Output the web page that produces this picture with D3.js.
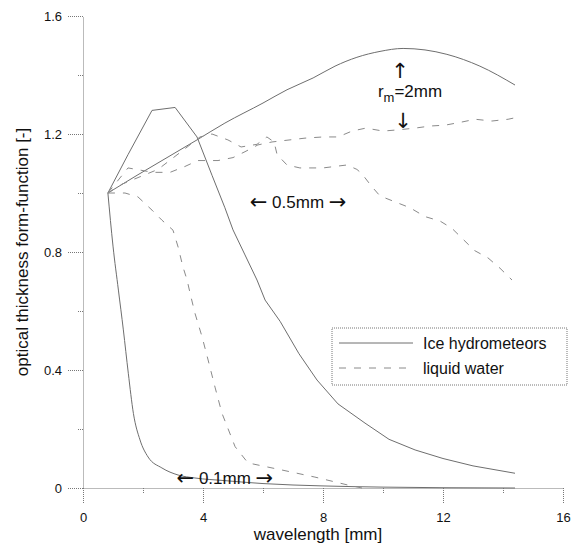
<!DOCTYPE html>
<html>
<head>
<meta charset="utf-8">
<script src="https://cdn.jsdelivr.net/npm/d3@7"></script>
<style>
  body { margin: 0; background: #fff; }
  svg { font-family: "Liberation Sans", Arial, sans-serif; }
  .axis path, .axis line { stroke: #777; stroke-dasharray: 1,1; }
  .axis text { fill: #111; font-size: 13px; }
  .curve { fill: none; stroke: #6e6e6e; stroke-width: 1; }
  .dashed { stroke-dasharray: 7,8; stroke: #8a8a8a; }
  .title { font-size: 17px; fill: #111; }
  .note { font-size: 17px; fill: #111; }
  .arrow { font-family: "DejaVu Sans", sans-serif; font-size: 21px; }
</style>
</head>
<body>
<svg id="chart" width="576" height="548"></svg>
<script>
// ticks
const xMajorTicks = [0, 4, 8, 12, 16];
const xMinorTicks = [2, 6, 10, 14];
const yMajorTicks = [0, 0.4, 0.8, 1.2, 1.6];
const yMinorTicks = [0.2, 0.6, 1.0, 1.4];

// ice hydrometeors, r_m = 2mm
const ice2X = [0.83, 1.8, 2.8, 3.8, 4.73, 6.0, 6.8, 7.67, 8.4, 9.13, 9.9, 10.67, 11.4, 12.13, 13.23, 14.4];
const ice2Y = [1.0, 1.06, 1.12, 1.18, 1.237, 1.305, 1.35, 1.39, 1.43, 1.46, 1.48, 1.49, 1.485, 1.47, 1.43, 1.366];

// ice hydrometeors, r_m = 0.5mm
const ice05X = [0.83, 1.5, 2.3, 3.07, 3.8, 4.3, 4.73, 5.0, 5.4, 5.8, 6.07, 6.57, 7.2, 7.8, 8.5, 9.4, 10.2, 11.07, 12.0, 13.0, 14.4];
const ice05Y = [1.0, 1.13, 1.28, 1.29, 1.19, 1.06, 0.95, 0.875, 0.79, 0.705, 0.637, 0.565, 0.455, 0.366, 0.285, 0.22, 0.165, 0.129, 0.10, 0.075, 0.05];

// ice hydrometeors, r_m = 0.1mm
const ice01X = [0.83, 1.0, 1.18, 1.345, 1.51, 1.68, 1.9, 2.17, 2.63, 3.17, 3.73, 4.73, 6.0, 8.0, 10.0, 12.0, 14.4];
const ice01Y = [1.0, 0.82, 0.671, 0.536, 0.389, 0.253, 0.163, 0.105, 0.068, 0.044, 0.034, 0.025, 0.015, 0.007, 0.003, 0.001, 0.0];

// liquid water, r_m = 2mm
const liq2X = [0.83, 1.5, 2.33, 2.9, 3.4, 3.83, 4.5, 5.0, 5.4, 5.83, 6.3, 7.4, 8.0, 8.5, 8.97, 9.43, 10.0, 10.5, 11.07, 11.57, 12.07, 12.6, 13.07, 13.63, 14.17, 14.4];
const liq2Y = [1.0, 1.085, 1.07, 1.07, 1.09, 1.11, 1.11, 1.12, 1.14, 1.163, 1.173, 1.186, 1.19, 1.19, 1.21, 1.22, 1.21, 1.214, 1.22, 1.227, 1.23, 1.24, 1.25, 1.244, 1.25, 1.255];

// liquid water, r_m = 0.5mm
const liq05X = [0.83, 1.3, 2.5, 3.4, 3.9, 4.3, 4.83, 5.27, 5.8, 6.13, 6.37, 6.47, 6.8, 7.23, 8.0, 8.8, 9.13, 9.3, 9.6, 9.9, 10.4, 10.9, 11.4, 11.9, 12.3, 12.7, 13.05, 13.5, 13.9, 14.3];
const liq05Y = [1.0, 1.03, 1.08, 1.15, 1.19, 1.20, 1.18, 1.156, 1.165, 1.19, 1.173, 1.13, 1.095, 1.085, 1.085, 1.095, 1.08, 1.065, 1.025, 0.99, 0.97, 0.95, 0.92, 0.905, 0.88, 0.84, 0.805, 0.78, 0.745, 0.705];

// liquid water, r_m = 0.1mm
const liq01X = [0.83, 1.4, 1.83, 2.3, 2.63, 3.0, 3.17, 3.33, 3.47, 3.57, 3.73, 3.97, 4.17, 4.4, 4.63, 5.07, 5.5, 6.63, 7.73, 8.83, 9.3];
const liq01Y = [1.0, 1.0, 0.987, 0.942, 0.908, 0.874, 0.817, 0.75, 0.705, 0.66, 0.593, 0.512, 0.434, 0.342, 0.254, 0.14, 0.085, 0.061, 0.037, 0.01, 0.0];

const legendLabels = ["Ice hydrometeors", "liquid water"];

const margin = {top: 16, left: 83};
const width = 480, height = 472;

const x = d3.scaleLinear().domain([0, 16]).range([0, width]);
const y = d3.scaleLinear().domain([0, 1.6]).range([height, 0]);

const svg = d3.select("#chart");
const g = svg.append("g").attr("transform", "translate(" + margin.left + "," + margin.top + ")");

// axes
g.append("g").attr("class", "axis")
    .attr("transform", "translate(0," + height + ")")
    .call(d3.axisBottom(x).tickValues(xMajorTicks).tickSize(15).tickSizeOuter(0).tickPadding(10).tickFormat(d3.format("d")));
g.append("g").attr("class", "axis")
    .attr("transform", "translate(0," + height + ")")
    .call(d3.axisBottom(x).tickValues(xMinorTicks).tickSize(6).tickFormat(""))
    .select(".domain").remove();
g.append("g").attr("class", "axis")
    .call(d3.axisLeft(y).tickValues(yMajorTicks).tickSize(16).tickSizeOuter(0).tickPadding(5)
        .tickFormat(d => d === 0 ? "0" : d3.format(".1f")(d)));
g.append("g").attr("class", "axis")
    .call(d3.axisLeft(y).tickValues(yMinorTicks).tickSize(6).tickFormat(""))
    .select(".domain").remove();

// curves
const series = [
    {xs: ice2X, ys: ice2Y, liquid: false, curve: d3.curveMonotoneX},
    {xs: ice05X, ys: ice05Y, liquid: false, curve: d3.curveLinear},
    {xs: ice01X, ys: ice01Y, liquid: false, curve: d3.curveMonotoneX},
    {xs: liq2X, ys: liq2Y, liquid: true, curve: d3.curveLinear},
    {xs: liq05X, ys: liq05Y, liquid: true, curve: d3.curveLinear},
    {xs: liq01X, ys: liq01Y, liquid: true, curve: d3.curveLinear}
];

series.forEach(s => {
    const pts = s.xs.map((v, i) => [v, s.ys[i]]);
    const line = d3.line().x(d => x(d[0])).y(d => y(d[1])).curve(s.curve);
    g.append("path")
        .datum(pts)
        .attr("class", s.liquid ? "curve dashed" : "curve")
        .attr("d", line);
});

// axis titles
g.append("text").attr("class", "title")
    .attr("x", x(8) - 5).attr("y", height + 52)
    .attr("text-anchor", "middle")
    .text("wavelength [mm]");
g.append("text").attr("class", "title")
    .attr("transform", "translate(" + (-55) + "," + y(0.8) + ") rotate(-90)")
    .attr("text-anchor", "middle")
    .text("optical thickness form-function [-]");

// annotations
const rm = g.append("text").attr("class", "note")
    .attr("x", x(10.9)).attr("y", y(1.325))
    .attr("text-anchor", "middle");
rm.append("tspan").text("r");
rm.append("tspan").attr("font-size", "13px").attr("dy", 5).text("m");
rm.append("tspan").attr("dy", -5).text("=2mm");
g.append("text").attr("class", "note arrow").attr("x", x(10.57)).attr("y", y(1.39))
    .attr("text-anchor", "middle").text("\u2191");
g.append("text").attr("class", "note arrow").attr("x", x(10.67)).attr("y", y(1.22))
    .attr("text-anchor", "middle").text("\u2193");

function rangeNote(cx, cy, label) {
    const t = g.append("text").attr("class", "note")
        .attr("x", x(cx)).attr("y", y(cy))
        .attr("text-anchor", "middle");
    t.append("tspan").attr("class", "arrow").attr("dy", 1).text("\u2190");
    t.append("tspan").attr("dy", -1).text(" " + label + " ");
    t.append("tspan").attr("class", "arrow").attr("dy", 1).text("\u2192");
}
rangeNote(7.17, 0.95, "0.5mm");
rangeNote(4.73, 0.015, "0.1mm");

// legend
const lg = g.append("g").attr("transform", "translate(" + (332 - margin.left) + "," + (328 - margin.top) + ")");
lg.append("rect").attr("width", 235).attr("height", 57)
    .attr("fill", "#fff").attr("stroke", "#777").attr("stroke-dasharray", "1,1");
legendLabels.forEach((lab, i) => {
    lg.append("line").attr("x1", 7).attr("x2", 81)
        .attr("y1", 15 + i * 25).attr("y2", 15 + i * 25)
        .attr("class", i === 0 ? "curve" : "curve dashed");
    lg.append("text").attr("x", 91).attr("y", 21 + i * 25)
        .attr("font-size", "16px").attr("fill", "#111")
        .text(lab);
});
</script>
</body>
</html>
